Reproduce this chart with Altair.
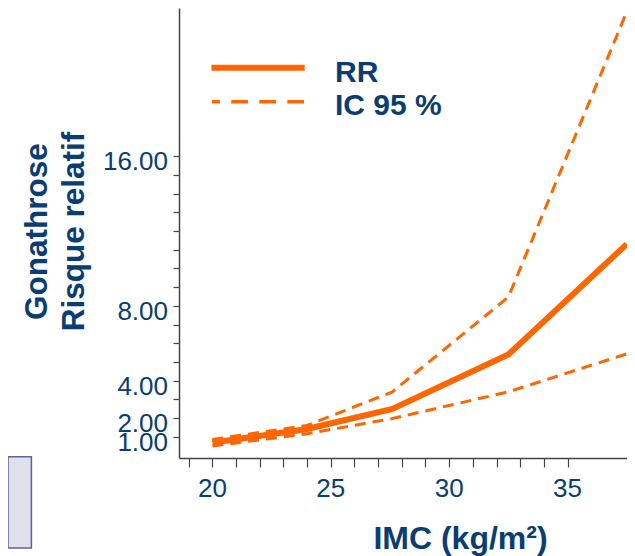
import altair as alt
import pandas as pd

# Data
bmi = [20.0, 24.0, 27.6, 32.5, 37.5]
rr = [0.68, 1.41, 2.48, 5.40, 11.30]
ic_low = [0.50, 1.16, 1.97, 3.40, 5.43]
ic_high = [0.85, 1.60, 3.40, 8.47, 23.73]

y_ticks = list(range(1, 17))
y_labels = [1, 2, 4, 8, 16]
x_ticks = list(range(19, 36))
x_labels = [20, 25, 30, 35]
legend_labels = ["RR", "IC 95 %"]

NAVY = "#0a3d72"
ORANGE = "#ff6600"
AXC = "#444444"
FONT = "Liberation Sans"

df = pd.DataFrame({"bmi": bmi, "rr": rr, "low": ic_low, "high": ic_high})
ylab_df = pd.DataFrame({"v": y_labels, "t": [f"{v:.2f}" for v in y_labels]})
xlab_df = pd.DataFrame({"v": x_labels, "t": [str(v) for v in x_labels]})

xscale = alt.Scale(domain=[18.59, 37.51], nice=False, zero=False)
yscale = alt.Scale(domain=[-0.14, 23.93], nice=False, zero=False)

x_axis = alt.Axis(
    values=x_ticks, tickCount=100, labels=False,
    tickSize=9, tickColor=AXC, tickWidth=1.2,
    domainColor=AXC, domainWidth=1.5, grid=False,
    title="IMC (kg/m²)", titleFont=FONT, titleFontSize=32, titleFontWeight="bold",
    titleColor=NAVY, titleX=281, titleY=90, titleAlign="center",
    titleBaseline="alphabetic", titleAngle=0,
)

y_axis = alt.Axis(
    values=y_ticks, tickCount=100, labels=False,
    tickSize=6, tickColor=AXC, tickWidth=1.2,
    domainColor=AXC, domainWidth=1.5, grid=False,
    title=["Gonathrose", "Risque relatif"], titleFont=FONT, titleFontSize=31.5,
    titleFontWeight="bold", titleColor=NAVY, titleAngle=-90,
    titleX=-133, titleY=223, titleAlign="center", titleBaseline="alphabetic",
    titleLineHeight=37,
)

base = alt.Chart(df)

rr_line = base.mark_line(color=ORANGE, strokeWidth=6, clip=False).encode(
    x=alt.X("bmi:Q", scale=xscale, axis=x_axis),
    y=alt.Y("rr:Q", scale=yscale, axis=y_axis),
)
low_line = base.mark_line(color=ORANGE, strokeWidth=3, strokeDash=[11, 7], clip=False).encode(
    x=alt.X("bmi:Q", scale=xscale), y=alt.Y("low:Q", scale=yscale)
)
high_line = base.mark_line(color=ORANGE, strokeWidth=3, strokeDash=[11, 7], clip=False).encode(
    x=alt.X("bmi:Q", scale=xscale), y=alt.Y("high:Q", scale=yscale)
)

# tick labels drawn through the shared scales
ylab = alt.Chart(ylab_df).mark_text(
    font=FONT, fontSize=26, color=NAVY, align="right", baseline="alphabetic", dy=14, clip=False
).encode(y=alt.Y("v:Q", scale=yscale), x=alt.value(-11), text="t:N")
xlab = alt.Chart(xlab_df).mark_text(
    font=FONT, fontSize=26, color=NAVY, align="center", baseline="alphabetic", clip=False
).encode(x=alt.X("v:Q", scale=xscale), y=alt.value(488.7), text="t:N")

leg = pd.DataFrame({"label": legend_labels})
leg_solid = alt.Chart(leg.iloc[[0]]).mark_rule(color=ORANGE, strokeWidth=6).encode(
    x=alt.value(32.4), x2=alt.value(125.7), y=alt.value(59.8)
)
leg_dash = alt.Chart(leg.iloc[[1]]).mark_rule(
    color=ORANGE, strokeWidth=3.5, strokeDash=[16.7, 11.3], strokeDashOffset=8.7
).encode(x=alt.value(33), x2=alt.value(125.7), y=alt.value(93.7))
leg_text1 = alt.Chart(leg.iloc[[0]]).mark_text(
    font=FONT, fontSize=30, fontWeight="bold", color=NAVY, align="left", baseline="alphabetic"
).encode(x=alt.value(156), y=alt.value(74), text="label:N")
leg_text2 = alt.Chart(leg.iloc[[1]]).mark_text(
    font=FONT, fontSize=30, fontWeight="bold", color=NAVY, align="left", baseline="alphabetic"
).encode(x=alt.value(156), y=alt.value(107), text="label:N")

box = alt.Chart(leg.iloc[[0]]).mark_rect(
    fill="#e0e0ec", stroke="#5f6494", strokeWidth=1.5, clip=False
).encode(x=alt.value(-171), x2=alt.value(-147.6), y=alt.value(448.7), y2=alt.value(540))

chart = alt.layer(
    box, rr_line, low_line, high_line, ylab, xlab, leg_solid, leg_dash, leg_text1, leg_text2
).properties(
    width=448, height=450,
    padding={"left": 171, "top": 0, "right": 0, "bottom": 98},
    autosize=alt.AutoSizeParams(type="none"),
).configure_view(stroke=None)

chart.save("out.html", embed_options={"renderer": "svg", "actions": False})
